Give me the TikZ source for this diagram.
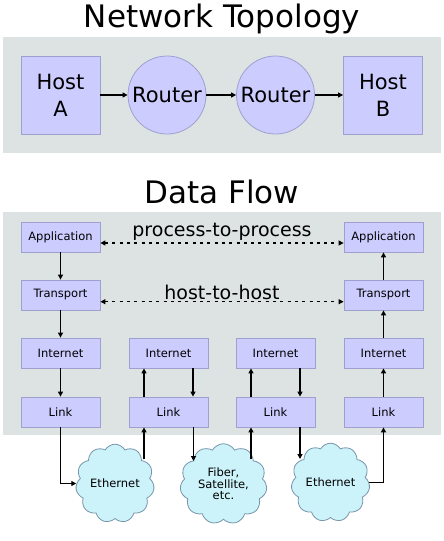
\documentclass[tikz,border=0pt]{standalone}
\usepackage{fontspec}
\setmainfont{DejaVu Sans}
\usetikzlibrary{arrows.meta,shapes.symbols,calc}
\definecolor{panel}{RGB}{221,227,227}
\definecolor{boxfill}{RGB}{204,204,255}
\definecolor{boxline}{RGB}{160,160,208}
\definecolor{cloudfill}{RGB}{204,242,250}
\definecolor{cloudline}{RGB}{120,150,170}
\tikzset{
 hostbox/.style={draw=boxline,fill=boxfill,line width=0.8pt,minimum width=79pt,minimum height=78pt,inner sep=0pt,align=center,font=\fontsize{21}{27}\selectfont},
 routerbox/.style={circle,draw=boxline,fill=boxfill,line width=0.8pt,minimum size=78pt,inner sep=0pt,font=\fontsize{21}{25}\selectfont},
 layerbox/.style={draw=boxline,fill=boxfill,line width=0.8pt,minimum width=79pt,minimum height=30pt,inner sep=0pt,font=\fontsize{11.5}{13}\selectfont},
 netcloud/.style={cloud,cloud puffs=11,cloud puff arc=120,draw=cloudline,fill=cloudfill,line width=0.8pt,inner sep=0pt,align=center,font=\fontsize{11.5}{11.5}\selectfont},
 arr/.style={line width=1.3pt,-{Triangle[length=5pt,width=5pt]}},
 dotarr/.style={line width=1.2pt,dash pattern=on 3pt off 4.3pt,{Triangle[length=5pt,width=5pt]}-{Triangle[length=5pt,width=5pt]}},
 titletext/.style={font=\fontsize{31}{37}\selectfont,anchor=base,inner sep=0pt},
 labeltext/.style={font=\fontsize{19}{23}\selectfont,anchor=base,inner sep=0pt},
}
\begin{document}
\begin{tikzpicture}[x=1pt,y=-1pt]
\useasboundingbox (0,0) rectangle (444,541);
\fill[white] (0,0) rectangle (444,541);
% Network topology
\node[titletext] (t1) at (222,27) {Network Topology};
\fill[panel] (3,37) rectangle (441,153);
\node[hostbox] (HA) at (60.5,95) {Host\\A};
\node[routerbox] (R1) at (167,95) {Router};
\node[routerbox] (R2) at (275.5,95) {Router};
\node[hostbox] (HB) at (383,95) {Host\\B};
\draw[arr] (HA) -- (R1);
\draw[arr] (R1) -- (R2);
\draw[arr] (R2) -- (HB);
% Data flow
\node[titletext] (t2) at (222,203) {Data Flow};
\fill[panel] (3,212) rectangle (441,435);
\node[layerbox] (A1) at (60.5,237) {Application};
\node[layerbox] (T1) at (60.5,295) {Transport};
\node[layerbox] (I1) at (60.5,353) {Internet};
\node[layerbox] (L1) at (60.5,412) {Link};
\node[layerbox] (I2) at (168.5,353) {Internet};
\node[layerbox] (L2) at (168.5,412) {Link};
\node[layerbox] (I3) at (275.5,353) {Internet};
\node[layerbox] (L3) at (275.5,412) {Link};
\node[layerbox] (A4) at (383.5,237) {Application};
\node[layerbox] (T4) at (383.5,295) {Transport};
\node[layerbox] (I4) at (383.5,353) {Internet};
\node[layerbox] (L4) at (383.5,412) {Link};
\node[labeltext] (p2p) at (222,236) {process-to-process};
\node[labeltext] (h2h) at (222,299) {host-to-host};
\draw[dotarr] ([yshift=-6pt]A1.east) -- ([yshift=-6pt]A4.west);
\draw[dotarr] ([yshift=-6.7pt]T1.east) -- ([yshift=-6.7pt]T4.west);
\draw[arr] (A1) -- (T1);
\draw[arr] (T1) -- (I1);
\draw[arr] (I1) -- (L1);
\draw[arr] (L4) -- (I4);
\draw[arr] (I4) -- (T4);
\draw[arr] (T4) -- (A4);
\draw[arr] ([xshift=-24.5pt]L2.north) -- ([xshift=-24.5pt]I2.south);
\draw[arr] ([xshift=24.5pt]I2.south) -- ([xshift=24.5pt]L2.north);
\draw[arr] ([xshift=-24.5pt]L3.north) -- ([xshift=-24.5pt]I3.south);
\draw[arr] ([xshift=24.5pt]I3.south) -- ([xshift=24.5pt]L3.north);
% clouds
\node[netcloud,minimum width=70pt,minimum height=63pt] (E1) at (115,483.5) {Ethernet};
\node[netcloud,minimum width=87pt,minimum height=62pt] (E2) at (223.5,484) {Fiber,\\Satellite,\\etc.};
\node[netcloud,minimum width=75pt,minimum height=61pt] (E3) at (330.5,482.5) {Ethernet};
\coordinate (e1o) at (144,459);
\coordinate (e2i) at (193.5,461);
\coordinate (e2o) at (251,459);
\coordinate (e3i) at (300,459);
\draw[arr] (L1.south) |- (E1.west);
\draw[arr] (e1o) -- (e1o |- L2.south);
\draw[arr] (e2i |- L2.south) -- (e2i);
\draw[arr] (e2o) -- (e2o |- L3.south);
\draw[arr] (e3i |- L3.south) -- (e3i);
\draw[arr] (E3.east) -| (L4.south);
\end{tikzpicture}
\end{document}
